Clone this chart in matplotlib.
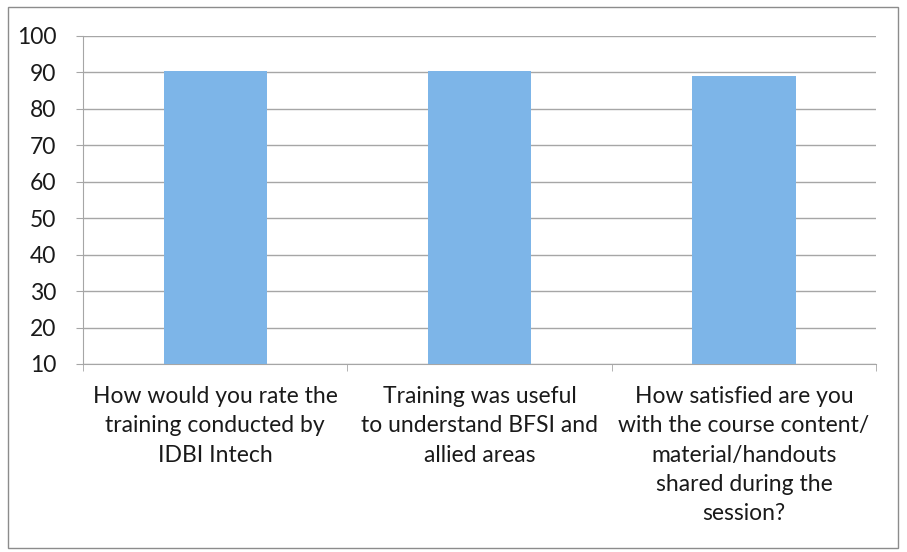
import matplotlib
matplotlib.use("Agg")
import matplotlib.pyplot as plt
from matplotlib.patches import Rectangle
import numpy as np

plt.rcParams['font.family'] = ['Lato', 'DejaVu Sans']

preguntas = [
    "How would you rate the\ntraining conducted by\nIDBI Intech",
    "Training was useful\nto understand BFSI and\nallied areas",
    "How satisfied are you\nwith the course content/\nmaterial/handouts\nshared during the\nsession?",
]
puntajes = [90.5, 90.5, 89.0]
marcas_y = [10, 20, 30, 40, 50, 60, 70, 80, 90, 100]

color_barra = '#7db5e8'
color_linea = '#a6a6a6'
color_texto = '#1a1a1a'

fig = plt.figure(figsize=(9.07, 5.52), dpi=100)
ax = fig.add_axes([0.0915, 0.3406, 0.8745, 0.5942])

# marco exterior del grafico
fig.patches.append(Rectangle((0.009, 0.007), 0.981, 0.98, transform=fig.transFigure,
                             fill=False, edgecolor='#8c8c8c', linewidth=1.0))

x = np.arange(len(preguntas))
ax.bar(x, puntajes, width=0.39, color=color_barra, zorder=3, bottom=0)

ax.set_ylim(10, 100)
ax.set_xlim(-0.5, len(preguntas) - 0.5)
ax.set_yticks(marcas_y)
ax.tick_params(axis='y', labelsize=16.5, length=5, color=color_linea, pad=14, labelcolor=color_texto)
ax.grid(axis='y', color=color_linea, linewidth=1.0, zorder=0)

ax.set_xticks(x)
ax.set_xticklabels(preguntas, fontsize=16.5, linespacing=1.48, color=color_texto, va='top')
ax.set_xticks(np.arange(-0.5, len(preguntas)), minor=True)
ax.tick_params(axis='x', which='major', length=0, pad=16)
ax.tick_params(axis='x', which='minor', length=5, color=color_linea)

for lado in ['top', 'right']:
    ax.spines[lado].set_visible(False)
for lado in ['left', 'bottom']:
    ax.spines[lado].set_color(color_linea)

fig.savefig("out.png", dpi=100)
